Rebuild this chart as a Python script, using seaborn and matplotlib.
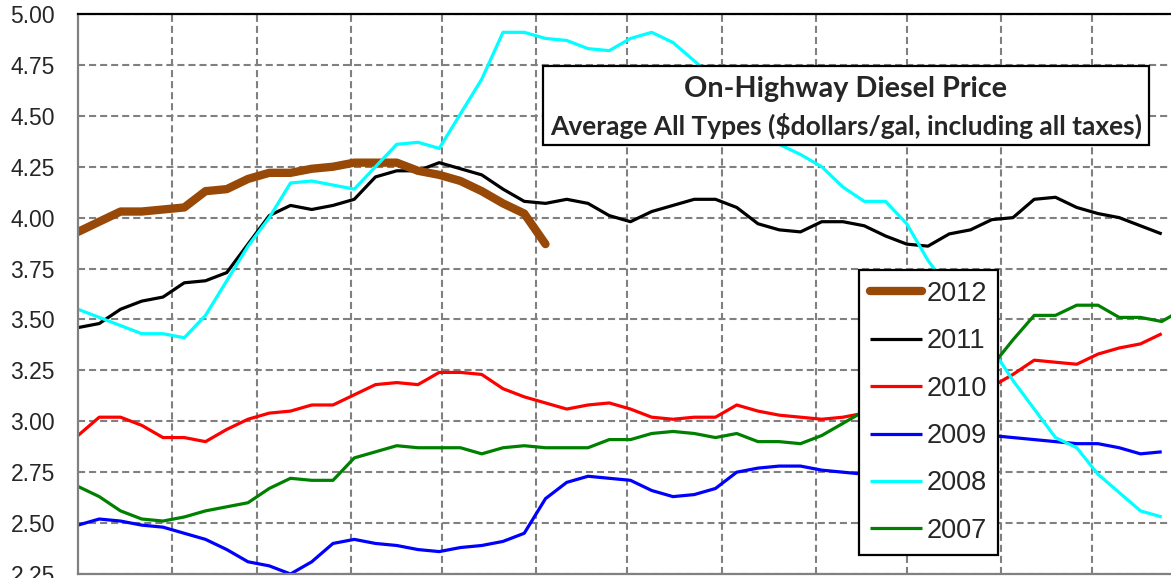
import numpy as np
import pandas as pd
import matplotlib.pyplot as plt
import seaborn as sns
from matplotlib.patches import Rectangle

# weekly on-highway diesel prices ($/gal), one list per year
y2012 = [3.93, 3.98, 4.03, 4.03, 4.04, 4.05, 4.13, 4.14, 4.19, 4.22, 4.22, 4.24,
         4.25, 4.27, 4.27, 4.27, 4.23, 4.21, 4.18, 4.13, 4.07, 4.02, 3.87]
y2011 = [3.46, 3.48, 3.55, 3.59, 3.61, 3.68, 3.69, 3.73, 3.87, 4.01, 4.06, 4.04,
         4.06, 4.09, 4.20, 4.23, 4.23, 4.27, 4.24, 4.21, 4.14, 4.08, 4.07, 4.09,
         4.07, 4.01, 3.98, 4.03, 4.06, 4.09, 4.09, 4.05, 3.97, 3.94, 3.93, 3.98,
         3.98, 3.96, 3.91, 3.87, 3.86, 3.92, 3.94, 3.99, 4.00, 4.09, 4.10, 4.05,
         4.02, 4.00, 3.96, 3.92]
y2010 = [2.93, 3.02, 3.02, 2.98, 2.92, 2.92, 2.90, 2.96, 3.01, 3.04, 3.05, 3.08,
         3.08, 3.13, 3.18, 3.19, 3.18, 3.24, 3.24, 3.23, 3.16, 3.12, 3.09, 3.06,
         3.08, 3.09, 3.06, 3.02, 3.01, 3.02, 3.02, 3.08, 3.05, 3.03, 3.02, 3.01,
         3.02, 3.04, 3.06, 3.08, 3.10, 3.12, 3.14, 3.17, 3.23, 3.30, 3.29, 3.28,
         3.33, 3.36, 3.38, 3.43]
y2009 = [2.49, 2.52, 2.51, 2.49, 2.48, 2.45, 2.42, 2.37, 2.31, 2.29, 2.25, 2.31,
         2.40, 2.42, 2.40, 2.39, 2.37, 2.36, 2.38, 2.39, 2.41, 2.45, 2.62, 2.70,
         2.73, 2.72, 2.71, 2.66, 2.63, 2.64, 2.67, 2.75, 2.77, 2.78, 2.78, 2.76,
         2.75, 2.74, 2.76, 2.79, 2.83, 2.87, 2.90, 2.93, 2.92, 2.91, 2.90, 2.89,
         2.89, 2.87, 2.84, 2.85]
y2008 = [3.55, 3.51, 3.47, 3.43, 3.43, 3.41, 3.52, 3.69, 3.86, 4.00, 4.17, 4.18,
         4.16, 4.14, 4.25, 4.36, 4.37, 4.34, 4.51, 4.68, 4.91, 4.91, 4.88, 4.87,
         4.83, 4.82, 4.88, 4.91, 4.86, 4.77, 4.68, 4.57, 4.46, 4.36, 4.31, 4.25,
         4.15, 4.08, 4.08, 3.97, 3.79, 3.65, 3.50, 3.36, 3.20, 3.06, 2.92, 2.87,
         2.74, 2.65, 2.56, 2.53]
y2007 = [2.68, 2.63, 2.56, 2.52, 2.51, 2.53, 2.56, 2.58, 2.60, 2.67, 2.72, 2.71,
         2.71, 2.82, 2.85, 2.88, 2.87, 2.87, 2.87, 2.84, 2.87, 2.88, 2.87, 2.87,
         2.87, 2.91, 2.91, 2.94, 2.95, 2.94, 2.92, 2.94, 2.90, 2.90, 2.89, 2.93,
         2.99, 3.05, 3.09, 3.12, 3.15, 3.18, 3.22, 3.27, 3.40, 3.52, 3.52, 3.57,
         3.57, 3.51, 3.51, 3.49, 3.55]

years = ['2012', '2011', '2010', '2009', '2008', '2007']
series = [y2012, y2011, y2010, y2009, y2008, y2007]
colors = ['#984807', '#000000', '#ff0000', '#0000ff', '#00ffff', '#008000']
widths = [6.0, 2.3, 2.3, 2.3, 2.3, 2.3]
zorders = [2.1, 2.0, 2.2, 2.3, 2.4, 2.5]

month_starts = [31, 59, 90, 120, 151, 181, 212, 243, 273, 304, 334]
yticks = [2.25, 2.50, 2.75, 3.00, 3.25, 3.50, 3.75, 4.00, 4.25, 4.50, 4.75, 5.00]

sns.set_style('white')
plt.rcParams['font.family'] = ['Liberation Sans', 'DejaVu Sans']

W, H = 1171, 578
fig = plt.figure(figsize=(W / 100, H / 100), dpi=100)
ax = fig.add_axes([78 / W, 1 - 574 / H, 1108 / W, 560 / H])

handles = []
for yr, vals, c, lw, z in zip(years, series, colors, widths, zorders):
    df = pd.DataFrame({'day': np.arange(len(vals)) * 7, 'price': vals})
    sns.lineplot(data=df, x='day', y='price', ax=ax, color=c, linewidth=lw,
                 zorder=z, label=yr, legend=False,
                 solid_capstyle='round' if yr == '2012' else 'butt',
                 solid_joinstyle='round')
    handles.append(ax.lines[-1])

ax.set_xlim(0, 365)
ax.set_ylim(2.25, 5.00)
ax.set_xticks(month_starts)
ax.set_xticklabels([])
ax.set_yticks(yticks)
ax.set_yticklabels([f'{v:.2f}' for v in yticks])
ax.tick_params(axis='both', length=0)
ax.tick_params(axis='y', labelsize=16.5, pad=16.5)
ax.set_xlabel('')
ax.set_ylabel('')
ax.set_axisbelow(True)
ax.grid(True, color='#808080', linestyle=(0, (3.4, 1.9)), linewidth=1.5)

for side in ['left', 'bottom']:
    ax.spines[side].set_color('#808080')
    ax.spines[side].set_linewidth(1.6)
ax.spines['top'].set_color('black')
ax.spines['top'].set_linewidth(1.6)
ax.spines['right'].set_visible(False)

leg = ax.legend(handles=handles, labels=years, loc='upper left',
                bbox_to_anchor=(859 / W, 1 - 270 / H), bbox_transform=fig.transFigure,
                fontsize=19.5, frameon=True, fancybox=False, framealpha=1,
                edgecolor='black', borderpad=0.4, handlelength=1.93,
                handletextpad=0.18, labelspacing=0.79, borderaxespad=0)
leg.get_frame().set_linewidth(1.6)
leg.set_zorder(10)

# title box
box = Rectangle((543 / W, 1 - 145 / H), (1149 - 543) / W, (145 - 66) / H,
                transform=fig.transFigure, facecolor='white', edgecolor='black',
                linewidth=1.6, zorder=5)
fig.add_artist(box)
fig.text(845 / W, 1 - 89 / H, 'On-Highway Diesel Price', ha='center', va='center',
         fontsize=20.7, fontweight='bold', family=['Lato', 'DejaVu Sans'], zorder=6)
fig.text(846 / W, 1 - 126 / H, 'Average All Types ($dollars/gal, including all taxes)',
         ha='center', va='center', fontsize=19, fontweight='bold',
         family=['Lato', 'DejaVu Sans'], zorder=6)

fig.savefig('out.png', dpi=100)
